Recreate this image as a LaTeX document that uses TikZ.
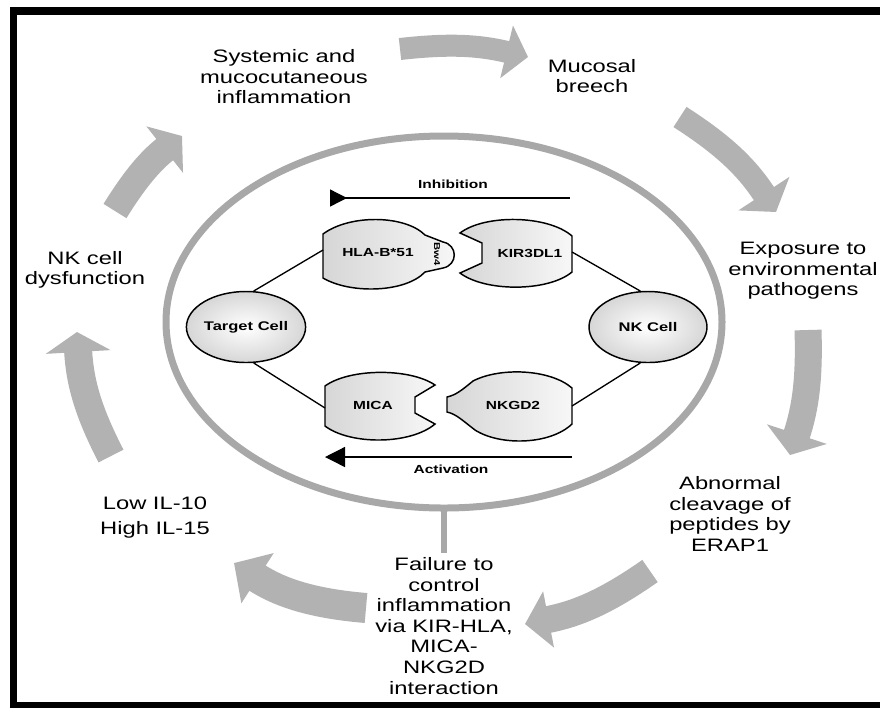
\documentclass[tikz,border=0pt]{standalone}
\usepackage{fontspec}
\setmainfont{Liberation Sans}[FakeStretch=1.32]
\usetikzlibrary{arrows.meta,shapes.geometric}
\definecolor{arrowgray}{RGB}{178,178,178}
\definecolor{ringgray}{RGB}{168,168,168}
\begin{document}
\begin{tikzpicture}[x=0.75pt,y=-0.75pt,
  biglabel/.style={align=center,inner sep=0pt,font=\fontsize{13.5pt}{15.4pt}\selectfont},
  cell/.style={ellipse,draw,line width=1.1pt,minimum width=88.5pt,minimum height=53.25pt,inner sep=0pt,
    inner color=white,outer color=gray!32,font=\bfseries\fontsize{9.4pt}{10pt}\selectfont},
  protein/.style={draw,line width=1.1pt,left color=gray!32,right color=gray!6},
  plabel/.style={inner sep=0pt,font=\bfseries\fontsize{8.8pt}{10pt}\selectfont},
  conn/.style={draw,line width=1pt},
  cyc/.style n args={3}{draw=arrowgray,line width=#1,-{Triangle[width=#2,length=#3]}}]
\useasboundingbox (0,0) rectangle (880,708);
\fill[white] (0,0) rectangle (880,708);
% frame
\fill[black] (10,7) rectangle (880,15);
\fill[black] (10,7) rectangle (17,708);
\fill[black] (10,702) rectangle (880,708);

% ring and stem
\draw[ringgray,line width=5.25pt] (444,322) ellipse [x radius=278,y radius=186];
\coordinate (stemT) at (444,510);
\coordinate (stemB) at (444,553);
\draw[ringgray,line width=4.5pt] (stemT) -- (stemB);

% cycle labels
\node[biglabel] (sys) at (284,77) {Systemic and\\mucocutaneous\\inflammation};
\node[biglabel] (muc) at (592,76) {Mucosal\\breech};
\node[biglabel] (exp) at (803,271) {Exposure to\\environmental\\pathogens};
\node[biglabel] (abn) at (730,514) {Abnormal\\cleavage of\\peptides by\\ERAP1};
\node[biglabel] (fail) at (444,626) {Failure to\\control\\inflammation\\via KIR-HLA,\\MICA-\\NKG2D\\interaction};
\node[biglabel] (low) at (155,503) {Low IL-10};
\node[biglabel] (high) at (155,530) {High IL-15};
\node[biglabel] (nkd) at (85,270) {NK cell\\dysfunction};

% cycle arrows
\coordinate (aS) at (400,49);  \coordinate (aE) at (528,57);
\coordinate (bS) at (680,117); \coordinate (bE) at (776,212);
\coordinate (cS) at (808,330); \coordinate (cE) at (790,455);
\coordinate (dS) at (650,571); \coordinate (dE) at (525,624);
\coordinate (eS) at (366,608); \coordinate (eE) at (234,563);
\coordinate (fS) at (111,456); \coordinate (fE) at (77,332);
\coordinate (gS) at (115,211); \coordinate (gE) at (182,136);
\draw[cyc={16.5pt}{39.75pt}{16.5pt}] (aS) to[bend left=10] (aE);
\draw[cyc={18pt}{45pt}{16.5pt}] (bS) to[bend left=12] (bE);
\draw[cyc={20.25pt}{46.5pt}{16.5pt}] (cS) to[bend left=10] (cE);
\draw[cyc={20.25pt}{42pt}{18pt}] (dS) to[bend left=12] (dE);
\draw[cyc={22.5pt}{43.5pt}{21pt}] (eS) to[bend left=14] (eE);
\draw[cyc={21pt}{48pt}{15pt}] (fS) to[bend left=12] (fE);
\draw[cyc={20.25pt}{43.5pt}{16.5pt}] (gS) to[bend left=10] (gE);

% proteins
\draw[protein] (323,234) .. controls (350,214) and (405,215) .. (425,235)
  -- (443,242) .. controls (458,245) and (458,265) .. (443,268)
  -- (425,272) .. controls (405,293) and (350,294) .. (323,278) -- cycle;
\draw[protein] (460,233) .. controls (485,214) and (548,215) .. (572,236)
  -- (572,272) .. controls (548,292) and (485,292) .. (460,273)
  -- (482,263) -- (482,243) -- cycle;
\draw[protein] (325,386) .. controls (350,368) and (410,368) .. (435,385)
  -- (415,397) -- (415,413) -- (435,424)
  .. controls (410,445) and (350,445) .. (325,426) -- cycle;
\draw[protein] (473,381) .. controls (500,367) and (550,369) .. (572,388)
  -- (572,424) .. controls (550,445) and (500,446) .. (475,430)
  .. controls (462,420) and (456,414) .. (447,412) -- (447,397)
  .. controls (456,395) and (462,390) .. (473,381) -- cycle;

\node[plabel] (hla) at (378,253) {HLA-B*51};
\node[plabel] (kir) at (530,253) {KIR3DL1};
\node[plabel] (mica) at (373,405) {MICA};
\node[plabel] (nkg) at (513,405) {NKGD2};
\node[inner sep=0pt,rotate=-90,font=\bfseries\fontsize{6.4pt}{7pt}\selectfont] (bw4) at (437,254) {Bw4};

% cells
\node[cell] (tc) at (246,327) {Target Cell};
\node[cell] (nk) at (648,327) {NK Cell};

\coordinate (hlaL) at (323,250);
\coordinate (kirR) at (572,252);
\coordinate (micaL) at (325,408);
\coordinate (nkgR) at (572,406);
\draw[conn] (tc.78) -- (hlaL);
\draw[conn] (tc.-78) -- (micaL);
\draw[conn] (nk.102) -- (kirR);
\draw[conn] (nk.-102) -- (nkgR);

% inhibition / activation
\coordinate (inhL) at (330,198); \coordinate (inhR) at (570,198);
\draw[conn,{Triangle[reversed,length=12.75pt,width=12.75pt]}-] (inhL) -- (inhR);
\node[plabel] (inh) at (453,184) {Inhibition};
\coordinate (actL) at (325,457); \coordinate (actR) at (572,457);
\draw[conn,-{Triangle[length=15pt,width=15pt]}] (actR) -- (actL);
\node[plabel] (act) at (451,469) {Activation};
\end{tikzpicture}
\end{document}
